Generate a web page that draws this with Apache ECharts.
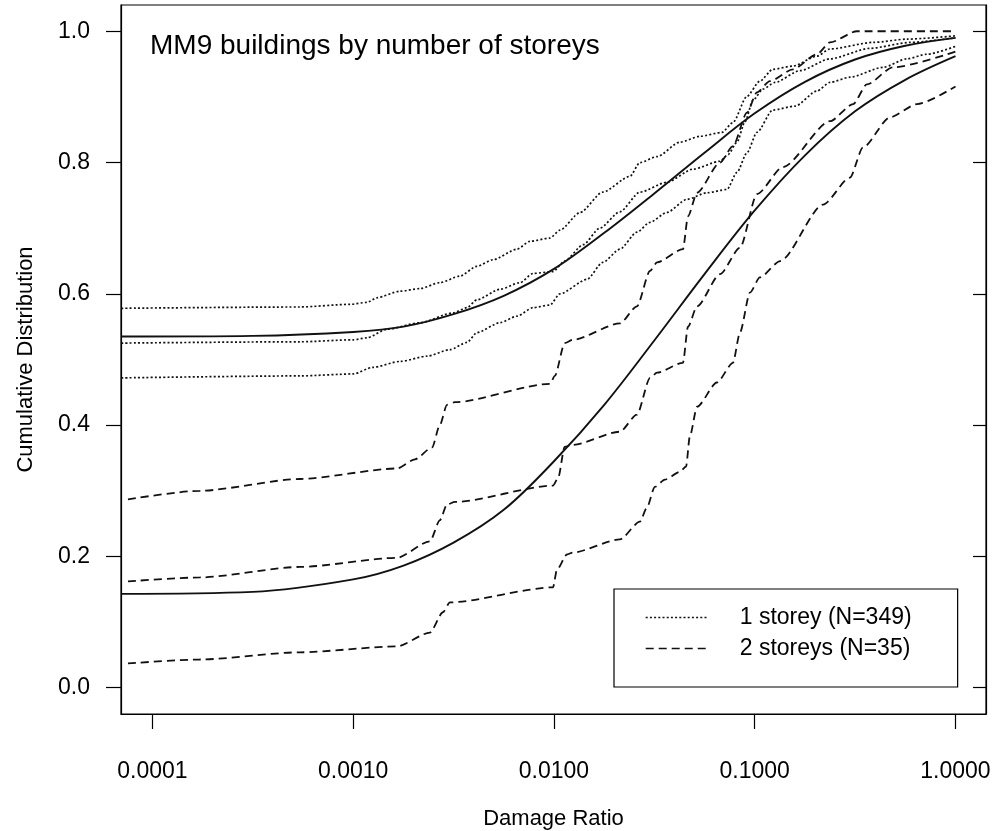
<!DOCTYPE html>
<html>
<head>
<meta charset="utf-8">
<script src="https://cdn.jsdelivr.net/npm/echarts@6/dist/echarts.min.js"></script>
<style>
html,body{margin:0;padding:0;background:#fff;}
#chart{width:995px;height:831px;}
</style>
</head>
<body>
<div id="chart"></div>
<script>
// ---- Data (x = damage ratio, y = cumulative distribution) ----
var titleText = 'MM9 buildings by number of storeys';
var xTickValues = [0.0001, 0.001, 0.01, 0.1, 1];
var yTickValues = [0, 0.2, 0.4, 0.6, 0.8, 1.0];
var legendNames = ['1 storey (N=349)', '2 storeys (N=35)'];

// fitted curve, 1 storey
var fit1 = [[7.0e-5,0.535],[3.16e-4,0.536],[0.001,0.542],[1.78e-3,0.550],[3.16e-3,0.569],[5.62e-3,0.597],[0.01,0.638],[0.0178,0.693],[0.0316,0.753],[0.0562,0.815],[0.1,0.875],[0.178,0.923],[0.316,0.957],[0.562,0.978],[1.0,0.990]];
// fitted curve, 2 storeys
var fit2 = [[7.0e-5,0.143],[3.16e-4,0.146],[0.001,0.165],[1.78e-3,0.186],[3.16e-3,0.221],[5.62e-3,0.271],[0.01,0.345],[0.0178,0.431],[0.0316,0.529],[0.0562,0.630],[0.1,0.727],[0.178,0.811],[0.316,0.878],[0.562,0.926],[1.0,0.962]];

// 1 storey: empirical curve with upper and lower bands (dotted)
var upper1 = [[7.0e-5,0.578],[5.43e-4,0.580],[9.63e-4,0.584],[1.17e-3,0.587],[1.31e-3,0.594],[1.71e-3,0.604],[2.15e-3,0.608],[2.70e-3,0.617],[3.40e-3,0.627],[4.13e-3,0.642],[4.97e-3,0.652],[6.54e-3,0.668],[7.59e-3,0.680],[9.55e-3,0.685],[0.0107,0.697],[0.0135,0.724],[0.0175,0.755],[0.0239,0.779],[0.0268,0.800],[0.0326,0.809],[0.0424,0.831],[0.0534,0.840],[0.0687,0.846],[0.0779,0.861],[0.0915,0.901],[0.106,0.924],[0.123,0.942],[0.155,0.947],[0.204,0.962],[0.237,0.973],[0.388,0.983],[0.573,0.988],[1.0,0.993]];
var ecdf1 = [[7.0e-5,0.525],[5.43e-4,0.527],[0.001,0.530],[1.17e-3,0.533],[1.47e-3,0.546],[2.15e-3,0.556],[3.14e-3,0.571],[3.69e-3,0.579],[4.13e-3,0.591],[5.38e-3,0.607],[6.77e-3,0.617],[7.86e-3,0.631],[9.89e-3,0.634],[0.0113,0.650],[0.0140,0.675],[0.0169,0.700],[0.0213,0.725],[0.0268,0.755],[0.0365,0.770],[0.0493,0.790],[0.0671,0.802],[0.0736,0.812],[0.0816,0.831],[0.0894,0.862],[0.098,0.895],[0.110,0.912],[0.126,0.922],[0.168,0.940],[0.237,0.958],[0.375,0.974],[0.593,0.983],[1.0,0.990]];
var lower1 = [[7.0e-5,0.472],[5.43e-4,0.475],[0.001,0.478],[1.25e-3,0.488],[1.71e-3,0.497],[2.33e-3,0.505],[3.03e-3,0.515],[3.69e-3,0.526],[4.13e-3,0.541],[5.38e-3,0.556],[6.54e-3,0.566],[7.86e-3,0.579],[9.55e-3,0.583],[0.0107,0.600],[0.0146,0.622],[0.0175,0.648],[0.0213,0.668],[0.0259,0.694],[0.0301,0.709],[0.0365,0.724],[0.046,0.744],[0.0578,0.754],[0.0727,0.759],[0.0816,0.785],[0.0915,0.815],[0.1026,0.846],[0.123,0.880],[0.159,0.886],[0.204,0.909],[0.237,0.922],[0.298,0.930],[0.435,0.945],[0.573,0.958],[0.721,0.965],[1.0,0.977]];

// 2 storeys: empirical curve with upper and lower bands (dashed)
var upper2 = [[7.55e-5,0.287],[1.72e-4,0.300],[5.43e-4,0.318],[1.65e-3,0.334],[2.03e-3,0.348],[2.47e-3,0.366],[2.70e-3,0.400],[2.93e-3,0.431],[3.21e-3,0.435],[9.55e-3,0.463],[0.0101,0.475],[0.0113,0.525],[0.0124,0.530],[0.0213,0.555],[0.0259,0.581],[0.0301,0.635],[0.0326,0.648],[0.0439,0.668],[0.0465,0.718],[0.0516,0.754],[0.0671,0.800],[0.0779,0.825],[0.0915,0.876],[0.1026,0.907],[0.119,0.924],[0.155,0.942],[0.204,0.965],[0.237,0.983],[0.323,1.0],[1.0,1.0]];
var ecdf2 = [[7.55e-5,0.162],[1.72e-4,0.168],[5.43e-4,0.184],[1.65e-3,0.198],[2.41e-3,0.223],[2.70e-3,0.255],[2.93e-3,0.279],[3.21e-3,0.283],[9.89e-3,0.308],[0.0105,0.320],[0.0113,0.367],[0.0124,0.370],[0.0213,0.390],[0.0259,0.416],[0.0301,0.472],[0.0326,0.480],[0.0439,0.495],[0.0465,0.550],[0.0516,0.581],[0.0671,0.630],[0.0844,0.670],[0.1026,0.752],[0.138,0.793],[0.237,0.863],[0.309,0.889],[0.362,0.919],[0.488,0.945],[1.0,0.969]];
var lower2 = [[7.55e-5,0.037],[1.72e-4,0.043],[5.43e-4,0.054],[1.65e-3,0.063],[2.41e-3,0.084],[2.80e-3,0.115],[3.03e-3,0.130],[9.89e-3,0.153],[0.01035,0.180],[0.0116,0.203],[0.0124,0.206],[0.0213,0.226],[0.0268,0.253],[0.029,0.274],[0.0318,0.306],[0.0357,0.317],[0.0424,0.329],[0.0455,0.337],[0.0475,0.383],[0.0516,0.428],[0.0648,0.465],[0.0779,0.495],[0.0844,0.541],[0.0947,0.602],[0.106,0.625],[0.134,0.650],[0.219,0.736],[0.298,0.777],[0.346,0.823],[0.472,0.869],[0.643,0.889],[1.0,0.916]];

// ---- Chart ----
var FONT = '"Liberation Sans", Arial, Helvetica, sans-serif';
var DOT = [2, 2.2];
var DASH = [8, 5];
var chart = echarts.init(document.getElementById('chart'), null, {renderer: 'canvas'});

function lineSeries(name, data, type, width, smooth) {
  var s = {
    name: name, type: 'line', data: data, showSymbol: false, symbol: 'none',
    smooth: smooth, silent: true, z: 3, color: '#111',
    itemStyle: {color: '#111'},
    lineStyle: {color: '#111', width: width, type: type}
  };
  if (type !== 'solid') s.smoothMonotone = 'x';
  return s;
}

var option = {
  animation: false,
  backgroundColor: '#fff',
  textStyle: {fontFamily: FONT},
  title: {
    text: titleText, left: 150, top: 32, padding: 0,
    textStyle: {fontFamily: FONT, fontSize: 28, fontWeight: 'normal', color: '#000'}
  },
  grid: {left: 121, right: 9, top: 5, bottom: 117, show: true, borderColor: '#000', borderWidth: 1.2,
    containLabel: false, outerBoundsMode: 'none'},
  legend: {
    data: legendNames, orient: 'vertical', left: 614, top: 589,
    padding: [17, 46, 27, 31], itemGap: 8, itemWidth: 63, itemHeight: 14,
    borderColor: '#000', borderWidth: 1.2, backgroundColor: '#fff',
    itemStyle: {opacity: 0},
    lineStyle: {color: '#111', width: 1.4},
    textStyle: {fontFamily: FONT, fontSize: 23, color: '#000', lineHeight: 23, padding: [0, 0, 0, 26]},
    selectedMode: false
  },
  xAxis: {
    type: 'log', logBase: 10, min: 6.97e-5, max: 1.419,
    name: 'Damage Ratio', nameLocation: 'middle', nameGap: 94,
    nameTextStyle: {fontFamily: FONT, fontSize: 22, color: '#000'},
    axisLine: {show: true, onZero: false, lineStyle: {color: '#000', width: 1.2}},
    axisTick: {show: true, inside: false, length: 15, lineStyle: {color: '#000', width: 1.2}, customValues: xTickValues},
    axisLabel: {margin: 46, fontFamily: FONT, fontSize: 23, color: '#000', customValues: xTickValues,
      formatter: function (v) { return Number(v).toFixed(4); }},
    splitLine: {show: false}, minorTick: {show: false}
  },
  yAxis: [{
    type: 'value', min: -0.04, max: 1.04, position: 'left',
    name: 'Cumulative Distribution', nameLocation: 'middle', nameGap: 84, nameRotate: 90,
    nameTextStyle: {fontFamily: FONT, fontSize: 22, color: '#000'},
    axisLine: {show: true, onZero: false, lineStyle: {color: '#000', width: 1.2}},
    axisTick: {show: true, inside: false, length: 15, lineStyle: {color: '#000', width: 1.2}, customValues: yTickValues},
    axisLabel: {margin: 31, fontFamily: FONT, fontSize: 23, color: '#000', customValues: yTickValues,
      formatter: function (v) { return Number(v).toFixed(1); }},
    splitLine: {show: false}
  }, {
    type: 'value', min: -0.04, max: 1.04, position: 'right',
    axisLine: {show: true, onZero: false, lineStyle: {color: '#000', width: 1.2}},
    axisTick: {show: true, inside: true, length: 13, lineStyle: {color: '#000', width: 1.2}, customValues: yTickValues},
    axisLabel: {show: false},
    splitLine: {show: false}
  }],
  series: [
    lineSeries('upper1', upper1, DOT, 1.7, 0.25),
    lineSeries(legendNames[0], ecdf1, DOT, 1.7, 0.25),
    lineSeries('lower1', lower1, DOT, 1.7, 0.25),
    lineSeries('upper2', upper2, DASH, 1.8, 0.25),
    lineSeries(legendNames[1], ecdf2, DASH, 1.8, 0.25),
    lineSeries('lower2', lower2, DASH, 1.8, 0.25),
    lineSeries('fit1', fit1, 'solid', 1.9, 0.35),
    lineSeries('fit2', fit2, 'solid', 1.9, 0.35)
  ]
};
chart.setOption(option);
</script>
</body>
</html>
